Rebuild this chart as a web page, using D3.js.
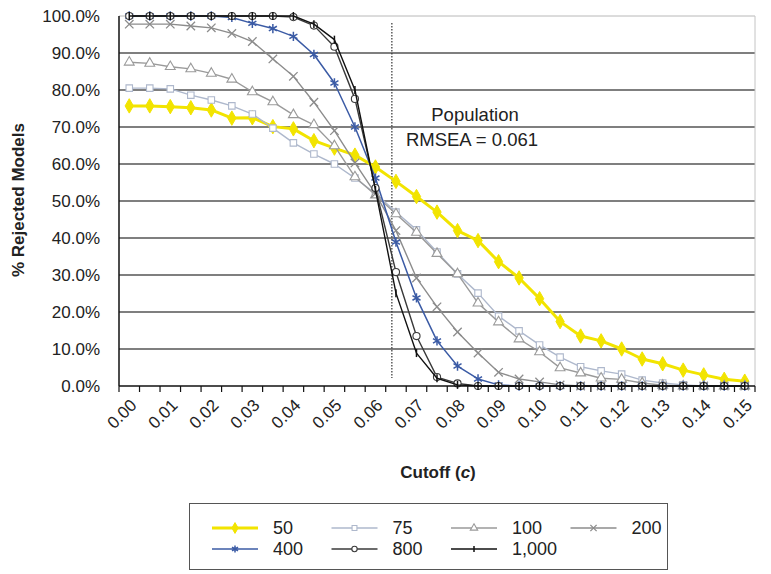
<!DOCTYPE html>
<html>
<head>
<meta charset="utf-8">
<script src="https://cdn.jsdelivr.net/npm/d3@7/dist/d3.min.js"></script>
<style>
  body { margin: 0; background: #fff; }
  svg text { font-family: "Liberation Sans", Arial, Helvetica, sans-serif; fill: #222; }
</style>
</head>
<body>
<svg id="chart" width="771" height="574"></svg>
<script>
// cutoff categories (c)
const cutoffs = [0.000, 0.005, 0.010, 0.015, 0.020, 0.025, 0.030, 0.035, 0.040, 0.045,
  0.050, 0.055, 0.060, 0.065, 0.070, 0.075, 0.080, 0.085, 0.090, 0.095,
  0.100, 0.105, 0.110, 0.115, 0.120, 0.125, 0.130, 0.135, 0.140, 0.145, 0.150];

// % rejected models, one array per sample size
const n50 = [75.7, 75.7, 75.5, 75.2, 74.6, 72.4, 72.5, 70.1, 69.5, 66.3, 64.3, 62.4, 59.2, 55.3, 51.2, 47.0,
  42.0, 39.3, 33.6, 29.2, 23.6, 17.4, 13.5, 12.2, 10.0, 7.3, 6.0, 4.3, 3.0, 1.8, 1.3];
const n75 = [80.5, 80.5, 80.3, 78.6, 77.3, 75.7, 73.5, 69.7, 65.7, 62.7, 60.0, 56.2, 52.0, 47.0, 42.2, 36.2,
  30.3, 25.1, 18.9, 14.9, 11.1, 7.8, 5.2, 4.1, 3.2, 1.6, 0.8, 0.3, 0, 0, 0];
const n100 = [87.5, 87.2, 86.3, 85.7, 84.5, 82.9, 79.5, 76.8, 73.3, 70.6, 64.9, 56.5, 51.6, 46.5, 41.5, 35.8,
  30.3, 22.4, 17.3, 12.7, 9.2, 4.9, 3.5, 2.1, 1.8, 0.8, 0.2, 0, 0, 0, 0];
const n200 = [97.8, 97.8, 97.8, 97.3, 96.8, 95.3, 93.1, 88.4, 83.7, 76.7, 69.0, 60.3, 52.0, 42.0, 29.2, 21.4,
  14.6, 8.9, 3.7, 1.9, 1.1, 0.3, 0, 0, 0, 0, 0, 0, 0, 0, 0];
const n400 = [100, 100, 100, 100, 100, 99.6, 98.0, 96.6, 94.5, 89.6, 81.9, 70.0, 56.2, 38.9, 23.8, 12.2,
  5.4, 1.9, 0.3, 0, 0, 0, 0, 0, 0, 0, 0, 0, 0, 0, 0];
const n800 = [100, 100, 100, 100, 100, 100, 100, 100, 99.7, 97.4, 91.7, 77.6, 53.5, 30.8, 13.5, 2.4,
  0.7, 0, 0, 0, 0, 0, 0, 0, 0, 0, 0, 0, 0, 0, 0];
const n1000 = [100, 100, 100, 100, 100, 100, 100, 100, 100, 97.8, 93.6, 80.0, 53.0, 25.1, 8.9, 2.1,
  0.3, 0, 0, 0, 0, 0, 0, 0, 0, 0, 0, 0, 0, 0, 0];

const seriesNames = ["50", "75", "100", "200", "400", "800", "1,000"];
const yTicks = [0, 10, 20, 30, 40, 50, 60, 70, 80, 90, 100];
const xTickLabels = ["0.00", "0.01", "0.02", "0.03", "0.04", "0.05", "0.06", "0.07",
  "0.08", "0.09", "0.10", "0.11", "0.12", "0.13", "0.14", "0.15"];
const populationCutoff = 0.064;

const svg = d3.select("#chart");
const pLeft = 119, pRight = 755, pTop = 16, pBottom = 386;

const x = d3.scaleBand().domain(cutoffs).range([pLeft, pRight]).padding(0);
const bw = x.bandwidth();
const cx = d => x(d) + bw / 2;
const xLin = d3.scaleLinear().domain([cutoffs[0] - 0.0025, cutoffs[cutoffs.length - 1] + 0.0025]).range([pLeft, pRight]);
const y = d3.scaleLinear().domain([0, 100]).range([pBottom, pTop]);

// gridlines
svg.append("g").selectAll("line")
  .data(yTicks.filter(t => t > 0))
  .join("line")
  .attr("x1", pLeft).attr("x2", pRight)
  .attr("y1", d => y(d)).attr("y2", d => y(d))
  .attr("stroke", d => d === 100 ? "#b8b8b8" : "#555")
  .attr("stroke-width", d => d === 100 ? 1 : 1.6);

// right border
svg.append("line")
  .attr("x1", pRight).attr("x2", pRight).attr("y1", pTop).attr("y2", pBottom)
  .attr("stroke", "#c4c4c4").attr("stroke-width", 1);

// y axis labels
const yAxis = d3.axisLeft(y).tickValues(yTicks).tickSize(0).tickPadding(19)
  .tickFormat(d => d.toFixed(1) + "%");
svg.append("g").attr("transform", `translate(${pLeft},0)`).call(yAxis)
  .call(g => g.select(".domain").remove())
  .selectAll("text").style("font-size", "17px").attr("fill", "#222");

// population reference line
svg.append("line")
  .attr("x1", xLin(populationCutoff)).attr("x2", xLin(populationCutoff))
  .attr("y1", 23).attr("y2", 378)
  .attr("stroke", "#333").attr("stroke-width", 1.2).attr("stroke-dasharray", "1.5,1.5");

svg.append("text").attr("x", 475).attr("y", 121).attr("text-anchor", "middle")
  .style("font-size", "18.5px").text("Population");
svg.append("text").attr("x", 472).attr("y", 146).attr("text-anchor", "middle")
  .style("font-size", "18.5px").text("RMSEA = 0.061");

// series
const seriesData = [n50, n75, n100, n200, n400, n800, n1000];
const styles = [
  { color: "#f2e400", width: 3, symbol: d3.symbolDiamond, size: 60, fill: "#f2e400", sw: 1 },
  { color: "#aeb8cc", width: 1.4, symbol: d3.symbolSquare, size: 42, fill: "#fff", sw: 1.1 },
  { color: "#9a9a9a", width: 1.4, symbol: d3.symbolTriangle, size: 42, fill: "#fff", sw: 1.1 },
  { color: "#8c8c8c", width: 1.4, symbol: d3.symbolTimes, size: 48, fill: "none", sw: 1.3 },
  { color: "#3b5ba5", width: 1.5, symbol: d3.symbolAsterisk, size: 60, fill: "none", sw: 1.5 },
  { color: "#3a3a3a", width: 1.4, symbol: d3.symbolCircle, size: 40, fill: "#fff", sw: 1.1 },
  { color: "#111", width: 1.4, symbol: "bar", size: 8, fill: "none", sw: 1.5 }
];

function markerPath(st, scale) {
  if (st.symbol === "bar") {
    const h = st.size * scale / 2;
    return `M0,${-h}L0,${h}`;
  }
  return d3.symbol(st.symbol, st.size * scale * scale)();
}

const line = d3.line().x((d, i) => cx(cutoffs[i])).y(d => y(d));

seriesData.forEach((vals, k) => {
  const st = styles[k];
  const g = svg.append("g");
  g.append("path").attr("d", line(vals)).attr("fill", "none")
    .attr("stroke", st.color).attr("stroke-width", st.width).attr("stroke-linejoin", "round");
  g.selectAll("path.m").data(vals).join("path").attr("class", "m")
    .attr("transform", (d, i) => `translate(${cx(cutoffs[i])},${y(d)})`)
    .attr("d", markerPath(st, 1))
    .attr("fill", st.fill).attr("stroke", st.color).attr("stroke-width", st.sw);
});

// axis lines and ticks at category boundaries
svg.append("line").attr("x1", pLeft).attr("x2", pLeft).attr("y1", pTop).attr("y2", pBottom)
  .attr("stroke", "#111").attr("stroke-width", 1.5);
svg.append("line").attr("x1", pLeft).attr("x2", pRight).attr("y1", pBottom).attr("y2", pBottom)
  .attr("stroke", "#111").attr("stroke-width", 1.5);
svg.append("g").selectAll("line")
  .data(cutoffs.concat([null]))
  .join("line")
  .attr("x1", (d, i) => pLeft + i * bw).attr("x2", (d, i) => pLeft + i * bw)
  .attr("y1", pBottom).attr("y2", pBottom + 6)
  .attr("stroke", "#111").attr("stroke-width", 1.2);

// x tick labels, every 0.01
const xAxis = d3.axisBottom(x).tickValues(cutoffs.filter((d, i) => i % 2 === 0))
  .tickSize(0).tickFormat((d, i) => xTickLabels[i]);
svg.append("g").attr("transform", `translate(0,${pBottom})`).call(xAxis)
  .call(g => g.select(".domain").remove())
  .selectAll("text")
  .style("font-size", "17px").attr("fill", "#222")
  .attr("text-anchor", "end")
  .attr("dy", "0.35em")
  .attr("transform", "translate(2,14) rotate(-45)");

// axis titles
svg.append("text").attr("transform", "translate(24,200) rotate(-90)")
  .attr("text-anchor", "middle").style("font-size", "17px").style("font-weight", "bold")
  .text("% Rejected Models");
const xt = svg.append("text").attr("x", 438).attr("y", 478).attr("text-anchor", "middle")
  .style("font-size", "17px").style("font-weight", "bold");
xt.append("tspan").text("Cutoff (");
xt.append("tspan").style("font-style", "italic").text("c");
xt.append("tspan").text(")");

// legend
const lg = svg.append("g");
lg.append("rect").attr("x", 189.5).attr("y", 503.5).attr("width", 478).attr("height", 66)
  .attr("fill", "#fff").attr("stroke", "#555").attr("stroke-width", 1);
const legendPos = [[0, 0], [1, 0], [2, 0], [3, 0], [0, 1], [1, 1], [2, 1]];
seriesNames.forEach((name, k) => {
  const st = styles[k];
  const [col, row] = legendPos[k];
  const x0 = 212 + col * 119.5, yy = 528 + row * 21;
  lg.append("line").attr("x1", x0).attr("x2", x0 + 46).attr("y1", yy).attr("y2", yy)
    .attr("stroke", st.color).attr("stroke-width", st.width);
  lg.append("path").attr("transform", `translate(${x0 + 23},${yy})`)
    .attr("d", markerPath(st, 0.75))
    .attr("fill", st.fill).attr("stroke", st.color).attr("stroke-width", st.sw);
  lg.append("text").attr("x", x0 + 61).attr("y", yy).attr("dy", "0.35em")
    .style("font-size", "18px").text(name);
});
</script>
</body>
</html>
